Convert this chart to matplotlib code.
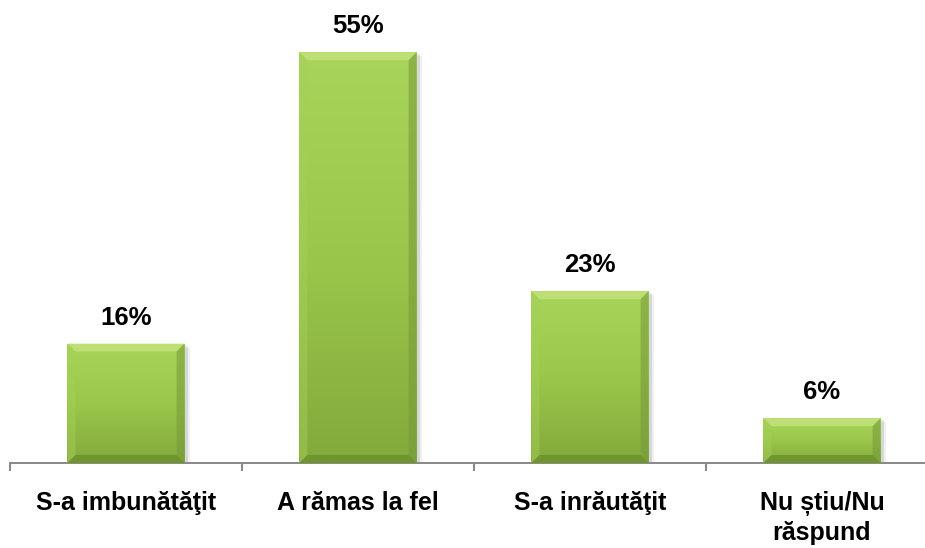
import matplotlib
matplotlib.use("Agg")
from matplotlib import pyplot as plt
from matplotlib.patches import Polygon, Rectangle
import numpy as np

categories = ["S-a imbunătăţit", "A rămas la fel", "S-a inrăutăţit", "Nu știu/Nu\nrăspund"]
values = [16, 55, 23, 6]
value_labels = ["16%", "55%", "23%", "6%"]

plt.rcParams["font.family"] = ["Liberation Sans", "DejaVu Sans"]

W, H = 925, 548
fig = plt.figure(figsize=(W / 100, H / 100), dpi=100)
# axis runs off the right edge like in the original
ax = fig.add_axes([10 / W, 85 / H, 928 / W, 463 / H])
ax.set_xlim(-0.5, 3.5)
ax.set_ylim(0, 62)

xs = np.arange(len(values))
bars = ax.bar(xs, values, width=0.505, color="#98c447", edgecolor="none", zorder=3)

# pixel -> data scale for the bevels
px_x = 4 / 928
px_y = 62 / 463
bev = 8

grad = np.linspace(1, 0, 256).reshape(-1, 1)
cmap = matplotlib.colors.LinearSegmentedColormap.from_list("g", ["#82a93b", "#9ac74b", "#a9d45b"])

for b in bars:
    x0, y0 = b.get_x(), b.get_y()
    w, h = b.get_width(), b.get_height()
    x1, y1 = x0 + w, y0 + h
    # soft shadow
    ax.add_patch(Rectangle((x0 + 3 * px_x, y0), w, h - 2 * px_y, color="#000000", alpha=0.10, lw=0, zorder=2))
    ax.add_patch(Rectangle((x0 + 5 * px_x, y0), w, h - 4 * px_y, color="#000000", alpha=0.06, lw=0, zorder=2))
    im = ax.imshow(grad, extent=(x0, x1, y0, y1), aspect="auto", cmap=cmap, zorder=3.5)
    im.set_clip_path(b)
    bx, by = bev * px_x, bev * px_y
    top = Polygon([(x0, y1), (x1, y1), (x1 - bx, y1 - by), (x0 + bx, y1 - by)], color="#c3e37e", alpha=0.8, lw=0, zorder=4)
    bot = Polygon([(x0, y0), (x1, y0), (x1 - bx, y0 + by), (x0 + bx, y0 + by)], color="#6a8d2a", alpha=0.75, lw=0, zorder=4)
    left = Polygon([(x0, y0), (x0, y1), (x0 + bx, y1 - by), (x0 + bx, y0 + by)], color="#a6d05a", alpha=0.45, lw=0, zorder=4)
    right = Polygon([(x1, y0), (x1, y1), (x1 - bx, y1 - by), (x1 - bx, y0 + by)], color="#76993a", alpha=0.55, lw=0, zorder=4)
    for p in (top, bot, left, right):
        ax.add_patch(p)

for x, v, lab in zip(xs, values, value_labels):
    ax.annotate(lab, (x, v), xytext=(0, 10), textcoords="offset points",
                ha="center", va="bottom", fontsize=18.5, fontweight="bold", color="#000000")

for s in ("top", "right", "left"):
    ax.spines[s].set_visible(False)
ax.spines["bottom"].set_color("#888888")
ax.spines["bottom"].set_linewidth(1.4)
ax.set_yticks([])

ax.set_xticks(xs)
ax.set_xticklabels(categories, fontsize=18, fontweight="bold", linespacing=1.25)
ax.tick_params(axis="x", which="major", length=0, pad=20)
ax.set_xticks(np.arange(-0.5, 4.0, 1.0), minor=True)
ax.tick_params(axis="x", which="minor", length=6, width=1.4, color="#888888")

fig.savefig("out.png", dpi=100)
